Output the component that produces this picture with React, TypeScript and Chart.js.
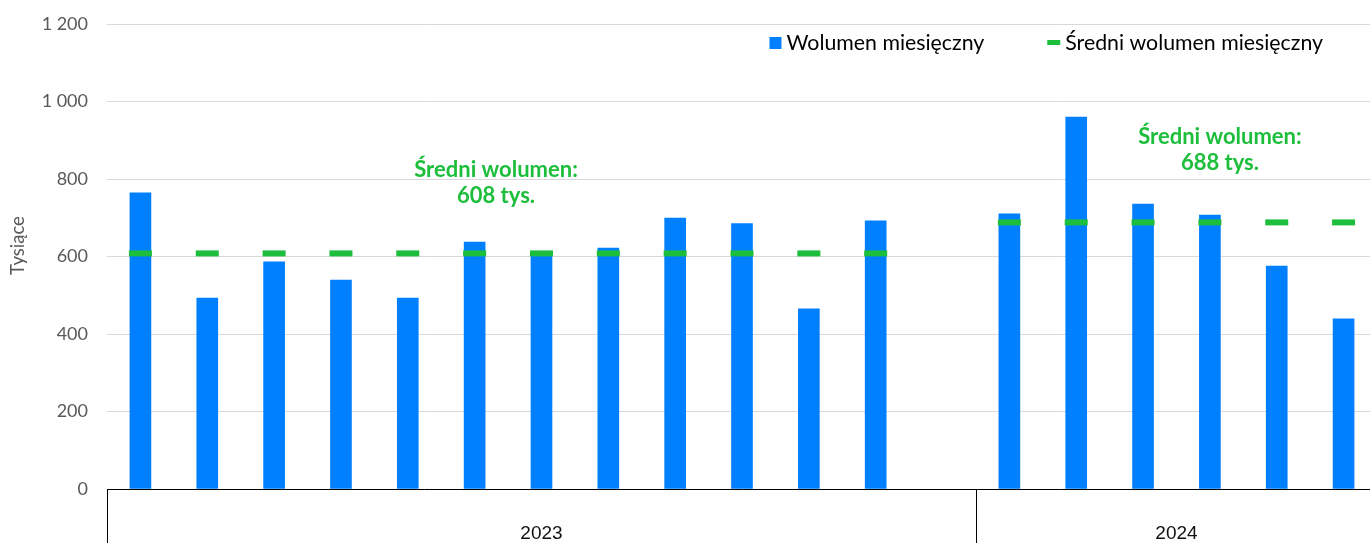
import React, { useEffect, useRef } from 'react';
import { Chart, registerables } from 'chart.js';

Chart.register(...registerables);

const categories = [
  'sty 2023', 'lut 2023', 'mar 2023', 'kwi 2023', 'maj 2023', 'cze 2023',
  'lip 2023', 'sie 2023', 'wrz 2023', 'paź 2023', 'lis 2023', 'gru 2023', '',
  'sty 2024', 'lut 2024', 'mar 2024', 'kwi 2024', 'maj 2024', 'cze 2024',
];

const monthlyVolume = [764, 493, 586, 539, 493, 637, 605, 622, 699, 685, 465, 692, null, 710, 960, 735, 707, 575, 439];

const averageVolume = [608, 608, 608, 608, 608, 608, 608, 608, 608, 608, 608, 608, null, 688, 688, 688, 688, 688, 688];

const groupLabels = ['2023', '2024'];
const groupStart = [0, 13];
const groupEnd = [12, 18];

const avgAnnotations = [
  { lines: ['Średni wolumen:', '608 tys.'], at: 5.32, value: 824 },
  { lines: ['Średni wolumen:', '688 tys.'], at: 16.15, value: 908 },
];

const legendLabels = ['Wolumen miesięczny', 'Średni wolumen miesięczny'];
const yAxisTitle = 'Tysiące';

const BLUE = '#007FFF';
const GREEN = '#1DBE3B';
const FONT = 'Lato, "Open Sans", sans-serif';

const formatThousands = (v: number) => String(v).replace(/\B(?=(\d{3})+(?!\d))/g, ' ');

const extrasPlugin = {
  id: 'extras',
  afterDraw(chart: any) {
    const { ctx, chartArea, scales } = chart;
    const x = scales.x;
    const y = scales.y;
    const hw = (x.getPixelForValue(1) - x.getPixelForValue(0)) / 2;
    ctx.save();
    // group axis
    ctx.strokeStyle = '#000000';
    ctx.lineWidth = 1;
    const bounds: number[] = [];
    groupLabels.forEach((lab, i) => {
      const l = x.getPixelForValue(groupStart[i]) - hw;
      const r = x.getPixelForValue(groupEnd[i]) + hw;
      bounds.push(l, r);
      ctx.fillStyle = '#111111';
      ctx.font = `19px "Liberation Sans", Arial, sans-serif`;
      ctx.textAlign = 'center';
      ctx.textBaseline = 'middle';
      ctx.fillText(lab, (l + r) / 2, chartArea.bottom + 45);
    });
    bounds.forEach((bx) => {
      const px = Math.round(bx) + 0.5;
      ctx.beginPath();
      ctx.moveTo(px, chartArea.bottom);
      ctx.lineTo(px, chart.height);
      ctx.stroke();
    });
    // y axis title
    ctx.save();
    ctx.translate(18, (chartArea.top + chartArea.bottom) / 2 - 11);
    ctx.rotate(-Math.PI / 2);
    ctx.fillStyle = '#595959';
    ctx.font = `18.5px ${FONT}`;
    ctx.textAlign = 'center';
    ctx.textBaseline = 'middle';
    ctx.fillText(yAxisTitle, 0, 0);
    ctx.restore();
    // annotations
    ctx.fillStyle = GREEN;
    ctx.font = `bold 22px ${FONT}`;
    ctx.textAlign = 'center';
    ctx.textBaseline = 'middle';
    avgAnnotations.forEach((a) => {
      const cx = x.getPixelForValue(a.at);
      const cy = y.getPixelForValue(a.value);
      a.lines.forEach((t, k) => ctx.fillText(t, cx, cy + k * 26));
    });
    // legend
    ctx.font = `21.3px ${FONT}`;
    ctx.textAlign = 'left';
    ctx.textBaseline = 'middle';
    ctx.fillStyle = '#000000';
    const ly = chartArea.top + 19;
    const w2 = ctx.measureText(legendLabels[1]).width;
    const w1 = ctx.measureText(legendLabels[0]).width;
    const t2 = chartArea.right - 54 - w2;
    const d2 = t2 - 18;
    const t1 = d2 - 63 - w1;
    const b1 = t1 - 17;
    ctx.fillText(legendLabels[0], t1, ly);
    ctx.fillText(legendLabels[1], t2, ly);
    ctx.fillStyle = BLUE;
    ctx.fillRect(b1, ly - 6, 12, 12);
    ctx.fillStyle = GREEN;
    ctx.fillRect(d2, ly - 3, 13, 5);
    ctx.restore();
  },
};

export default function App() {
  const ref = useRef<HTMLCanvasElement>(null);
  useEffect(() => {
    if (!ref.current) return;
    const chart = new Chart(ref.current, {
      type: 'bar',
      data: {
        labels: categories,
        datasets: [
          {
            type: 'line',
            label: legendLabels[1],
            data: averageVolume,
            showLine: false,
            pointStyle: 'line',
            pointRadius: 11.5,
            pointBorderWidth: 6,
            pointBorderColor: GREEN,
            pointBackgroundColor: GREEN,
            borderColor: GREEN,
            clip: false,
            order: 0,
          } as any,
          {
            type: 'bar',
            label: legendLabels[0],
            data: monthlyVolume,
            backgroundColor: BLUE,
            barThickness: 21,
            order: 1,
          },
        ],
      },
      options: {
        responsive: false,
        animation: false,
        layout: { autoPadding: false, padding: { top: 24, bottom: 54, left: 0, right: 0 } },
        plugins: {
          legend: { display: false },
          tooltip: { enabled: false },
        },
        scales: {
          x: {
            ticks: { display: false },
            grid: { display: false, drawTicks: false },
            border: { display: true, color: '#000000', width: 1 },
          },
          y: {
            min: 0,
            max: 1200,
            ticks: {
              stepSize: 200,
              color: '#595959',
              font: { family: FONT, size: 18 },
              padding: 19,
              callback: (v: any) => formatThousands(Number(v)),
            },
            grid: { color: '#d9d9d9', drawTicks: false },
            border: { display: false },
            afterFit: (scale: any) => {
              scale.width = 107;
              scale.paddingTop = 0;
              scale.paddingBottom = 0;
            },
          },
        },
      },
      plugins: [extrasPlugin],
    } as any);
    return () => chart.destroy();
  }, []);
  return (
    <div style={{ position: 'fixed', left: 0, top: 0, width: 1420, height: 543, overflow: 'hidden', background: '#fff' }}>
      <canvas ref={ref} width={1377} height={543} style={{ display: 'block', width: 1377, height: 543 }} />
    </div>
  );
}
